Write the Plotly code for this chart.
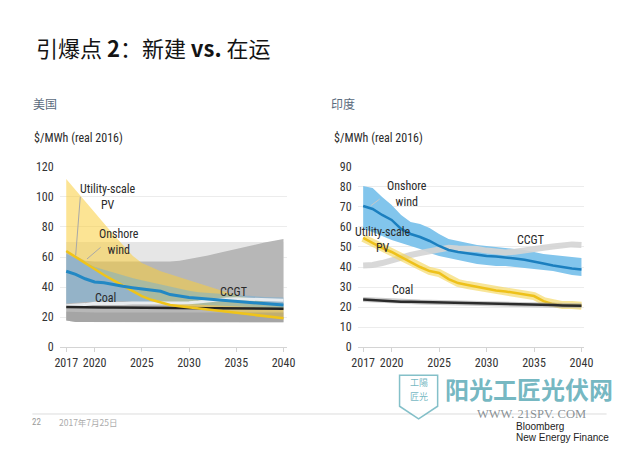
import plotly.graph_objects as go

# ---------------- data ----------------
years = [2017, 2018, 2019, 2020, 2021, 2022, 2023, 2024, 2025, 2026, 2027, 2028,
         2029, 2030, 2031, 2032, 2033, 2034, 2035, 2036, 2037, 2038, 2039, 2040]
x_ticks = [2017, 2020, 2025, 2030, 2035, 2040]

# United States ($/MWh real 2016)
us_wind = [50.5, 48.5, 45.5, 43.4, 42.8, 41.5, 40.5, 39.6, 38.8, 38.0, 37.2, 35.0,
           33.8, 33.0, 32.5, 32.0, 31.6, 31.2, 30.8, 30.2, 29.6, 29.0, 28.5, 28.0]
us_pv = [64, 60, 56, 51.5, 48, 44.5, 41, 37.5, 34, 31.5, 29.5, 28,
         27.2, 26.5, 25.8, 25, 24.2, 23.5, 22.7, 22, 21.2, 20.5, 19.8, 19.2]
us_coal = [26.8, 26.6, 26.5, 26.5, 26.4, 26.4, 26.3, 26.3, 26.2, 26.2, 26.1, 26.1,
           26.0, 26.0, 26.0, 25.9, 25.9, 25.8, 25.8, 25.7, 25.7, 25.6, 25.6, 25.5]
us_ccgt = [27.5, 27.8, 28.3, 29.2, 29.0, 28.8, 29.0, 29.3, 29.5, 29.5, 29.4, 29.3,
           29.3, 29.5, 30.0, 30.8, 31.5, 32.0, 32.2, 32.0, 31.8, 31.6, 31.4, 31.2]
us_range_floor = [17.8, 16.8, 16.5, 16.5, 16.5, 16.5, 16.5, 16.5, 16.5, 16.5, 16.5, 16.5,
                  16.5, 16.5, 16.5, 16.5, 16.5, 16.5, 16.5, 16.5, 16.5, 16.5, 16.5, 16.5]
us_ccgt_hi = [70, 70, 70, 70, 70, 70, 70, 70, 70, 70, 70, 70,
              70, 70, 70, 70, 70, 70, 70, 70, 70, 70, 70, 70]
us_coal_hi = [64, 60.5, 57.5, 57, 57, 57, 57, 57, 57, 57, 57, 57,
              57.5, 58.5, 59.5, 61, 62.5, 64, 65.5, 67, 68.3, 69.6, 70.8, 72]
us_coal_core_hi = [23.5, 23.2, 23, 23, 23, 23, 23, 23, 23, 23, 23, 23,
                   23, 23, 23, 23, 23, 23, 23, 23, 23, 23, 23, 23]
us_pv_hi = [112, 104.5, 97, 90, 82.5, 75, 68, 61, 56, 53, 50.5, 48.5,
            46.5, 44.5, 42.5, 40.5, 38.5, 36.5, 34.5, 33, 31.5, 30, 28.5, 27]
us_pv_lo = [63, 59, 55, 51, 47.5, 44, 40.5, 37, 33.5, 31, 29, 27.5,
            26.7, 26, 25.3, 24.5, 23.7, 23, 22.2, 21.5, 20.7, 20, 19.3, 18.7]
us_wind_hi = [62, 59, 56, 53.5, 51.5, 49.5, 47.5, 46, 44.5, 43, 41.5, 40,
              38.5, 37.5, 36.5, 36, 35.5, 35, 34.5, 34, 33.7, 33.4, 33.2, 33]
us_wind_lo = [29, 29.5, 30, 30.5, 30.5, 30.5, 30.5, 30.3, 30, 29.8, 29.5, 29.2,
              29, 28.7, 28.4, 28.1, 27.8, 27.5, 27.2, 26.9, 26.6, 26.3, 26, 25.7]

# India ($/MWh real 2016)
in_wind = [70.5, 69, 66, 63.5, 59, 56.5, 55, 53, 50.5, 48.5, 47.5, 46.8,
           46, 45.5, 45.3, 44.6, 44.2, 43.6, 42.8, 41.8, 40.8, 40, 39.3, 38.8]
in_wind_hi = [80.5, 79.5, 75, 71, 66, 62.5, 61.5, 59.5, 56.5, 54, 53, 52,
              51, 50.5, 50, 49.5, 49, 48.5, 47.5, 46.5, 46, 45.5, 45, 44.5]
in_wind_lo = [59, 57.5, 55.5, 53.5, 52, 50.5, 49, 47, 45.5, 44.5, 43.5, 42.5,
              41.5, 41, 40.5, 40.5, 40, 39.5, 39, 38.5, 38, 37, 36, 35.5]
in_pv = [54.5, 52, 49.5, 47.5, 45, 42.5, 40, 38, 37, 34, 32, 31,
         30, 29, 28.3, 27.8, 27, 26.3, 25.5, 23, 21.5, 21, 21, 20.7]
in_ccgt = [40.8, 41, 42, 43.5, 44.8, 46, 47, 48, 49, 49.6, 49.2, 49.4,
           49, 48.2, 47.6, 47.3, 47.6, 48.5, 49, 49.6, 50.2, 50.8, 51.3, 51]
in_coal = [23.8, 23.5, 23.1, 22.8, 22.7, 22.6, 22.5, 22.4, 22.3, 22.2, 22.1, 22.0,
           21.9, 21.8, 21.8, 21.7, 21.7, 21.6, 21.5, 21.2, 21.0, 20.8, 20.7, 20.6]

FONT = "Liberation Sans Narrow, Roboto Condensed, Liberation Sans, Arial"
CJK = "Noto Sans CJK SC"
W, H = 640, 452


def band(lo, hi, color, xa, ya):
    return go.Scatter(x=years + years[::-1], y=hi + lo[::-1], fill="toself",
                      fillcolor=color, line=dict(width=0), mode="lines",
                      xaxis=xa, yaxis=ya, hoverinfo="skip", showlegend=False)


def line(vals, color, width, xa, ya):
    return go.Scatter(x=years, y=vals, mode="lines",
                      line=dict(color=color, width=width, shape="linear"),
                      xaxis=xa, yaxis=ya, showlegend=False)


fig = go.Figure()
# US layers
fig.add_trace(band(us_range_floor, us_ccgt_hi, "#e6e6e6", "x", "y"))
fig.add_trace(band(us_range_floor, us_coal_hi, "#b7b7b7", "x", "y"))
fig.add_trace(band(us_pv_lo, us_pv_hi, "rgba(250,205,60,0.55)", "x", "y"))
fig.add_trace(band(us_wind_lo, us_wind_hi, "rgba(100,175,225,0.42)", "x", "y"))
fig.add_trace(band(us_range_floor, us_coal_core_hi, "rgba(110,110,110,0.25)", "x", "y"))
fig.add_trace(line(us_ccgt, "rgba(238,242,245,0.9)", 3, "x", "y"))
fig.add_trace(line(us_coal, "#242424", 2.5, "x", "y"))
fig.add_trace(line(us_pv, "#f0c419", 2.5, "x", "y"))
fig.add_trace(line(us_wind, "#2288c4", 3, "x", "y"))

# India layers
fig.add_trace(band(in_wind_lo, in_wind_hi, "#82c5ec", "x2", "y2"))
fig.add_trace(line(in_ccgt, "rgba(212,212,212,0.9)", 6, "x2", "y2"))
fig.add_trace(line(in_pv, "rgba(245,215,95,0.65)", 8, "x2", "y2"))
fig.add_trace(line(in_pv, "#eec11a", 2.5, "x2", "y2"))
fig.add_trace(line(in_coal, "rgba(160,160,160,0.55)", 5, "x2", "y2"))
fig.add_trace(line(in_coal, "#2b2b2b", 2.5, "x2", "y2"))
fig.add_trace(line(in_wind, "#1b7fbf", 2.5, "x2", "y2"))

ydom = [1 - 351 / H, 1 - 165 / H]
tickfont = dict(family=FONT, size=12, color="#333")

def xaxis(dom, rng, anchor):
    return dict(domain=dom, range=rng, anchor=anchor, tickvals=x_ticks,
                showgrid=False, zeroline=False, showline=True, linecolor="#d4d4d4",
                linewidth=1, ticks="outside", ticklen=4, tickcolor="#d4d4d4",
                tickfont=tickfont, fixedrange=True)

def yaxis(rng, dtick, anchor):
    return dict(domain=ydom, range=rng, anchor=anchor, dtick=dtick,
                showgrid=True, gridcolor="#ececec", gridwidth=1, zeroline=False,
                showline=False, ticks="", tickfont=tickfont, ticklabelstandoff=5,
                fixedrange=True)

lab = dict(family=FONT, size=12, color="#2a2a2a")

def paper_text(text, px, py, font, xanchor="left"):
    return dict(text=text, x=px / W, y=1 - py / H, xref="paper", yref="paper",
                xanchor=xanchor, yanchor="middle", showarrow=False, font=font,
                borderpad=0)

teal = "rgba(80,165,178,0.8)"
annotations = [
    paper_text("引爆点 <b>2</b>：新建 <b>vs.</b> 在运", 30, 41,
               dict(family=CJK, size=22, color="#141414")),
    paper_text("美国", 27, 100, dict(family=CJK, size=12, color="#5b6b7d")),
    paper_text("印度", 332, 100, dict(family=CJK, size=12, color="#5b6b7d")),
    paper_text("$/MWh (real 2016)", 28, 135, lab),
    paper_text("$/MWh (real 2016)", 335, 135, lab),
    # US labels
    dict(text="Utility-scale<br>PV", x=2021.4, y=100, xref="x", yref="y",
         showarrow=False, font=lab, align="center"),
    dict(text="Onshore<br>wind", x=2022.6, y=69.7, xref="x", yref="y",
         showarrow=False, font=lab, align="center"),
    dict(text="Coal", x=2021.2, y=33, xref="x", yref="y", showarrow=False, font=lab),
    dict(text="CCGT", x=2034.7, y=36.8, xref="x", yref="y", showarrow=False, font=lab),
    dict(text="", x=2018.0, y=61, ax=2018.5, ay=101, xref="x", yref="y",
         axref="x", ayref="y", showarrow=True, arrowhead=0, arrowwidth=1,
         arrowcolor="#a8a8a8"),
    dict(text="", x=2019.2, y=58.7, ax=2020.8, ay=67.3, xref="x", yref="y",
         axref="x", ayref="y", showarrow=True, arrowhead=0, arrowwidth=1,
         arrowcolor="#a8a8a8"),
    # India labels
    dict(text="Onshore<br>wind", x=2021.6, y=76.5, xref="x2", yref="y2",
         showarrow=False, font=lab, align="center"),
    dict(text="Utility-scale<br>PV", x=2019.1, y=53.5, xref="x2", yref="y2",
         showarrow=False, font=lab, align="center"),
    dict(text="CCGT", x=2034.6, y=53.7, xref="x2", yref="y2", showarrow=False, font=lab),
    dict(text="Coal", x=2021.1, y=28.4, xref="x2", yref="y2", showarrow=False, font=lab),
    dict(text="", x=2017.8, y=70.6, ax=2018.9, ay=74.5, xref="x2", yref="y2",
         axref="x2", ayref="y2", showarrow=True, arrowhead=0, arrowwidth=1,
         arrowcolor="#c8c8c8"),
    # footer
    paper_text("22", 26, 428, dict(family=FONT, size=9, color="#9a9a9a")),
    paper_text("2017年7月25日", 53, 428, dict(family=CJK, size=8.5, color="#ababab")),
    paper_text("<b>阳光工匠光伏网</b>", 449, 394, dict(family=CJK, size=24, color=teal)),
    paper_text("工陽", 422.5, 388, dict(family=CJK, size=9, color=teal), "center"),
    paper_text("匠光", 422.5, 402, dict(family=CJK, size=9, color=teal), "center"),
    paper_text("WWW. 21SPV. COM", 538, 420,
               dict(family="Liberation Serif, DejaVu Serif", size=12.5,
                    color="rgba(100,110,115,0.75)"), "center"),
    paper_text("Bloomberg", 521, 433, dict(family="Liberation Sans, Arial", size=10, color="#222")),
    paper_text("New Energy Finance", 521, 444,
               dict(family="Liberation Sans, Arial", size=10, color="#222")),
]

shield = ("M {x0},{y0} L {x1},{y0} L {x1},{y2} L {xm},{y3} L {x0},{y2} Z").format(
    x0=403 / W, x1=442 / W, xm=422.5 / W, y0=1 - 380 / H, y2=1 - 412 / H, y3=1 - 425 / H)

shapes = [
    dict(type="line", xref="paper", yref="paper", x0=27 / W, x1=615 / W,
         y0=1 - 420 / H, y1=1 - 420 / H, line=dict(color="#dcdcdc", width=1)),
    dict(type="path", xref="paper", yref="paper", path=shield,
         line=dict(color="rgba(80,165,178,0.7)", width=1.5), fillcolor="rgba(255,255,255,0.6)"),
]

fig.update_layout(
    width=W, height=H, margin=dict(l=0, r=0, t=0, b=0),
    paper_bgcolor="white", plot_bgcolor="rgba(0,0,0,0)",
    showlegend=False,
    xaxis=xaxis([55 / W, 288 / W], [2016.31, 2040.4], "y"),
    yaxis=yaxis([0, 120], 20, "x"),
    xaxis2=xaxis([360 / W, 592 / W], [2016.41, 2040.28], "y2"),
    yaxis2=yaxis([0, 90], 10, "x2"),
    annotations=annotations, shapes=shapes,
)

fig.write_html(
    "out.html",
    config={"displayModeBar": False, "staticPlot": True},
    post_script="document.body.style.margin='0';document.body.style.padding='0';"
                "document.documentElement.style.overflow='hidden';",
)
